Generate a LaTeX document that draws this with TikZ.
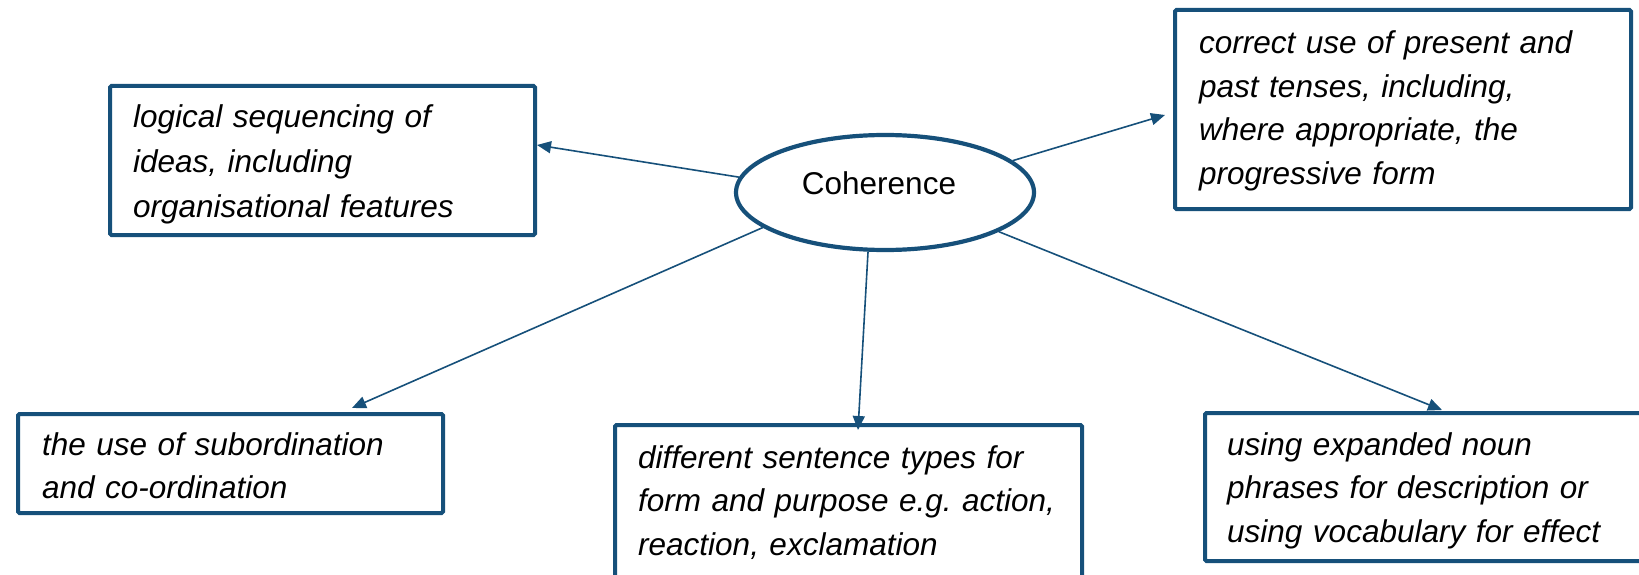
\documentclass[tikz,border=0pt]{standalone}
\usepackage{fontspec}
\setmainfont{Liberation Sans}
\usetikzlibrary{arrows.meta,shapes.geometric}
\frenchspacing
\definecolor{mapblue}{RGB}{22,80,122}
\tikzset{
  idea/.style={draw=mapblue, line width=4pt, rounded corners=1.5pt, inner sep=0pt, fill=white},
  hub/.style={draw=mapblue, line width=4.2pt, ellipse, inner sep=0pt,
              minimum width=298pt, minimum height=115pt},
  ideatext/.style={anchor=base west, inner sep=0pt, align=left, text width=480pt,
                   font=\fontsize{31.5}{43.5}\selectfont\itshape},
  hubtext/.style={anchor=base, inner sep=0pt, font=\fontsize{31.5}{38}\selectfont},
  link/.style={draw=mapblue, line width=1.6pt, -{Triangle[length=14pt,width=12pt]}}
}
\begin{document}
\begin{tikzpicture}[x=1pt,y=-1pt]
\useasboundingbox (0,0) rectangle (1639,575);

% outcome boxes
\node[idea, minimum width=425pt, minimum height=149pt] (b1) at (322.5,160.5) {};
\node[idea, minimum width=456pt, minimum height=199pt] (b2) at (1403,109.5) {};
\node[idea, minimum width=425pt, minimum height=99pt]  (b3) at (230.5,463.5) {};
\node[idea, minimum width=467pt, minimum height=175pt] (b4) at (848.5,512.5) {};
\node[idea, minimum width=455pt, minimum height=148pt] (b5) at (1432.5,487) {};

% box texts
\node[ideatext, font=\fontsize{31.5}{45}\selectfont\itshape] (t1) at (133,127.5)
  {logical sequencing of\\ideas, including\\organisational features};
\node[ideatext] (t2) at (1199,54)
  {correct use of present and\\past tenses, including,\\where appropriate, the\\progressive form};
\node[ideatext] (t3) at (42,455)
  {the use of subordination\\and co-ordination};
\node[ideatext] (t4) at (638,468)
  {different sentence types for\\form and purpose e.g.\ action,\\reaction, exclamation};
\node[ideatext] (t5) at (1227,455)
  {using expanded noun\\phrases for description or\\using vocabulary for effect};

% central idea
\node[hub] (core) at (885,192.5) {};
\node[hubtext] (coretext) at (879,194) {Coherence};

% arrow end points on the boxes
\coordinate (e1) at (537,145);
\coordinate (e2) at (1165,115);
\coordinate (e3) at (352,408);
\coordinate (e4) at (858,430);
\coordinate (e5) at (1442,410);

\draw[link] (core.174.4) -- (e1);
\draw[link] (core.14) -- (e2);
\draw[link] (core.196.2) -- (e3);
\draw[link] (core.254.3) -- (e4);
\draw[link] (core.341.8) -- (e5);
\end{tikzpicture}
\end{document}
